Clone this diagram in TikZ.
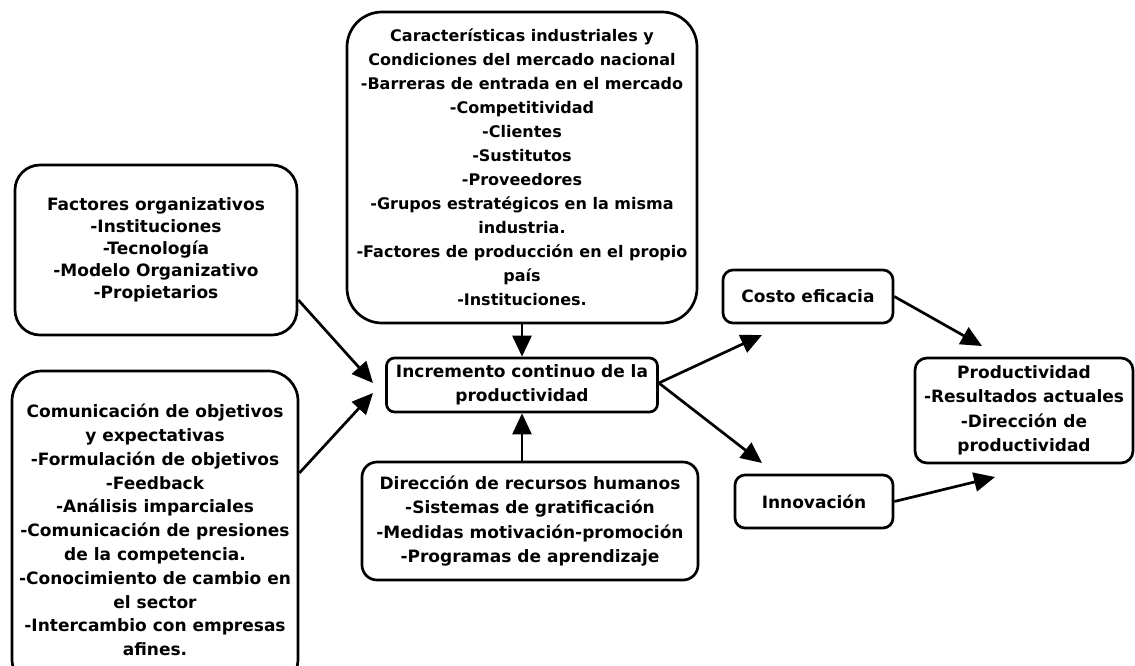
\documentclass[tikz,border=0pt]{standalone}
\usepackage{fontspec}
\setmainfont{DejaVu Sans}
\usetikzlibrary{arrows.meta}
\begin{document}
\begin{tikzpicture}[x=1pt,y=-1pt,
  box/.style={draw, line width=2.7pt, rounded corners=#1, align=center,
    font=\bfseries\fontsize{17}{24}\selectfont, inner sep=0pt},
  wide/.style={font=\bfseries\fontsize{17}{24.4}\selectfont},
  arr/.style={line width=2.7pt, -{Triangle[length=21pt,width=19pt]}}]
\useasboundingbox (0,0) rectangle (1135,665);
\node[box=35pt, minimum width=350pt, minimum height=311pt, font=\bfseries\fontsize{16}{24}\selectfont] (top) at (522,167.5)
 {Características industriales y\\Condiciones del mercado nacional\\-Barreras de entrada en el mercado\\-Competitividad\\-Clientes\\-Sustitutos\\-Proveedores\\-Grupos estratégicos en la misma\\industria.\\-Factores de producción en el propio\\país\\-Instituciones.};
\node[box=25pt, minimum width=282pt, minimum height=170pt, font=\bfseries\fontsize{17}{22}\selectfont] (fo) at (156,250)
 {Factores organizativos\\-Instituciones\\-Tecnología\\-Modelo Organizativo\\-Propietarios};
\node[box=30pt, minimum width=286pt, minimum height=318pt, font=\bfseries\fontsize{17}{23.8}\selectfont] (com) at (155,530)
 {Comunicación de objetivos\\y expectativas\\-Formulación de objetivos\\-Feedback\\-Análisis imparciales\\-Comunicación de presiones\\de la competencia.\\-Conocimiento de cambio en\\el sector\\-Intercambio con empresas\\afines.};
\node[box=8pt, minimum width=271pt, minimum height=54pt] (inc) at (522,385)
 {Incremento continuo de la\\productividad};
\node[box=15pt, wide, minimum width=336pt, minimum height=118pt] (rh) at (530,521)
 {Dirección de recursos humanos\\-Sistemas de gratificación\\-Medidas motivación-promoción\\-Programas de aprendizaje};
\node[box=10pt, minimum width=170pt, minimum height=53pt] (costo) at (808,296.5) {Costo eficacia};
\node[box=10pt, minimum width=158pt, minimum height=53pt] (innov) at (814,501.5) {Innovación};
\node[box=12pt, wide, minimum width=218pt, minimum height=105pt] (prod) at (1024,410.5)
 {Productividad\\-Resultados actuales\\-Dirección de\\productividad};
\coordinate (t1) at (373,383);
\coordinate (t2) at (373,393);
\coordinate (t3) at (762,335);
\coordinate (t4) at (762,463);
\coordinate (t5) at (982,346);
\coordinate (t6) at (995,477);
\draw[arr] (top.south) -- (inc.north);
\draw[arr] (inc.south |- rh.north) -- (inc.south);
\draw[arr] (fo.east |- 0,300) -- (t1);
\draw[arr] (com.east |- 0,473) -- (t2);
\draw[arr] ([yshift=2pt]inc.east) -- (t3);
\draw[arr] ([yshift=2pt]inc.east) -- (t4);
\draw[arr] (costo.east) -- (t5);
\draw[arr] (innov.east) -- (t6);
\end{tikzpicture}
\end{document}
